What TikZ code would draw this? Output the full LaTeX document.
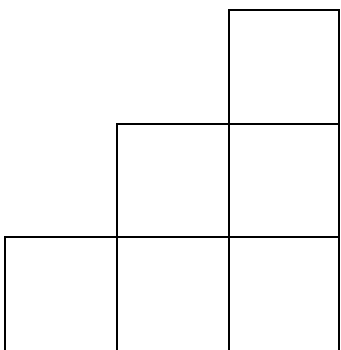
\documentclass[tikz,border=0pt]{standalone}
\tikzset{cell/.style={draw=black, line width=1.8pt}}
\begin{document}
\begin{tikzpicture}[x=1pt, y=-1pt]
  % page frame
  \useasboundingbox (0,0) rectangle (340,350);
  \clip (0,0) rectangle (340,350);
  % staircase of cells (bottom row runs off the page)
  \foreach \xa/\ya/\xb/\yb in {229/10/339/124,
                               117/124/229/237, 229/124/339/237,
                               5/237/117/362, 117/237/229/362, 229/237/339/362} {
    \draw[cell] (\xa,\ya) rectangle (\xb,\yb);
  }
\end{tikzpicture}
\end{document}
